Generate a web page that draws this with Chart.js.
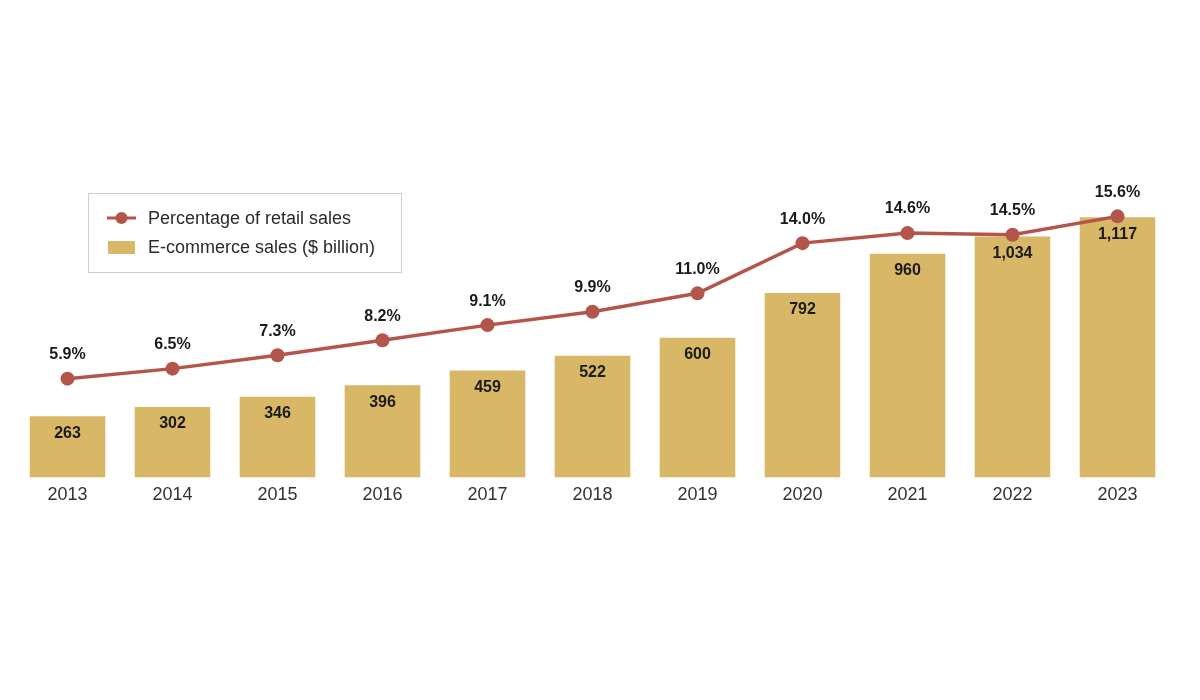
<!DOCTYPE html>
<html>
<head>
<meta charset="utf-8">
<script src="https://cdn.jsdelivr.net/npm/chart.js@4"></script>
<style>
html,body{margin:0;padding:0;background:#fff;}
#wrap{width:1200px;height:700px;position:relative;}
</style>
</head>
<body>
<div id="wrap"><canvas id="c" width="1200" height="700"></canvas></div>
<script>
const years = ['2013','2014','2015','2016','2017','2018','2019','2020','2021','2022','2023'];
const ecommerceSales = [263,302,346,396,459,522,600,792,960,1034,1117];
const retailShare = [5.9,6.5,7.3,8.2,9.1,9.9,11.0,14.0,14.6,14.5,15.6];
const salesLabels = ['263','302','346','396','459','522','600','792','960','1,034','1,117'];
const shareLabels = ['5.9%','6.5%','7.3%','8.2%','9.1%','9.9%','11.0%','14.0%','14.6%','14.5%','15.6%'];
const legendNames = ['Percentage of retail sales','E-commerce sales ($ billion)'];

const BAR = '#d8b766';
const LINE = '#b4554b';
const FONT = '"Liberation Sans", Arial, Helvetica, sans-serif';

const labelPlugin = {
  id: 'labels',
  afterDatasetsDraw(chart) {
    const ctx = chart.ctx;
    ctx.save();
    ctx.font = 'bold 16px ' + FONT;
    ctx.textAlign = 'center';
    ctx.textBaseline = 'middle';
    ctx.fillStyle = '#1a1a1a';
    const barMeta = chart.getDatasetMeta(1);
    barMeta.data.forEach((el, i) => {
      ctx.fillText(salesLabels[i], el.x, el.y + 17);
    });
    const lineMeta = chart.getDatasetMeta(0);
    lineMeta.data.forEach((el, i) => {
      ctx.fillText(shareLabels[i], el.x, el.y - 24);
    });
    ctx.restore();
  }
};

const legendPlugin = {
  id: 'boxLegend',
  afterDraw(chart) {
    const ctx = chart.ctx;
    ctx.save();
    ctx.strokeStyle = '#cfcfcf';
    ctx.lineWidth = 1;
    ctx.strokeRect(88.5, 193.5, 313, 79);
    ctx.strokeStyle = LINE;
    ctx.lineWidth = 3;
    ctx.beginPath();
    ctx.moveTo(107, 218);
    ctx.lineTo(136, 218);
    ctx.stroke();
    ctx.fillStyle = LINE;
    ctx.beginPath();
    ctx.arc(121.5, 218, 6, 0, Math.PI * 2);
    ctx.fill();
    ctx.fillStyle = BAR;
    ctx.fillRect(108, 241, 27, 13);
    ctx.fillStyle = '#2b2b2b';
    ctx.font = '18px ' + FONT;
    ctx.textAlign = 'left';
    ctx.textBaseline = 'middle';
    ctx.fillText(legendNames[0], 148, 219);
    ctx.fillText(legendNames[1], 148, 248);
    ctx.restore();
  }
};

new Chart(document.getElementById('c'), {
  data: {
    labels: years,
    datasets: [
      {
        type: 'line',
        label: legendNames[0],
        data: retailShare,
        yAxisID: 'yPct',
        borderColor: LINE,
        backgroundColor: LINE,
        borderWidth: 3.5,
        pointRadius: 7,
        pointBackgroundColor: LINE,
        pointBorderColor: LINE,
        pointBorderWidth: 0,
        tension: 0,
        order: 0
      },
      {
        type: 'bar',
        label: legendNames[1],
        data: ecommerceSales,
        yAxisID: 'ySales',
        backgroundColor: BAR,
        borderWidth: 0,
        categoryPercentage: 1.0,
        barPercentage: 0.72,
        order: 1
      }
    ]
  },
  options: {
    responsive: false,
    animation: false,
    layout: { padding: { top: 128, left: 15, right: 30, bottom: 187 } },
    plugins: {
      legend: { display: false },
      tooltip: { enabled: false }
    },
    scales: {
      x: {
        grid: { display: false, drawTicks: false },
        border: { display: false },
        ticks: { color: '#333', font: { size: 18, family: FONT }, padding: 7 }
      },
      ySales: {
        display: false,
        min: 0,
        max: 1500
      },
      yPct: {
        display: false,
        min: 0,
        max: 20.88
      }
    }
  },
  plugins: [labelPlugin, legendPlugin]
});
</script>
</body>
</html>
